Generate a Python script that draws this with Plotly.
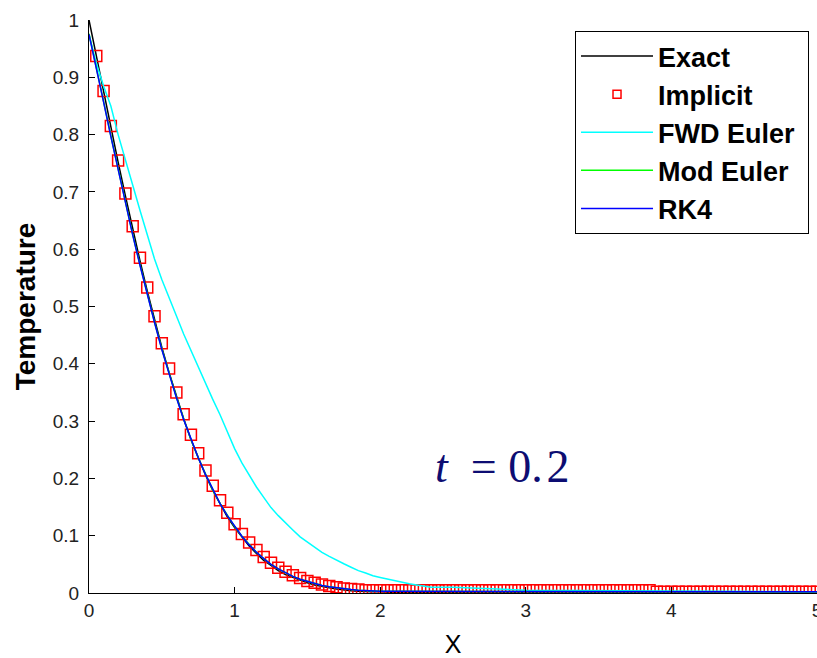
import plotly.graph_objects as go

# ---- data ----
X_LINE = [0.0, 0.05, 0.1, 0.15, 0.2, 0.25, 0.3, 0.35, 0.4, 0.45,
          0.5, 0.55, 0.6, 0.65, 0.7, 0.75, 0.8, 0.85, 0.9, 0.95,
          1.0, 1.05, 1.1, 1.15, 1.2, 1.25, 1.3, 1.35, 1.4, 1.45,
          1.5, 1.55, 1.6, 1.65, 1.7, 1.75, 1.8, 1.85, 1.9, 1.95,
          2.0, 2.05, 2.1, 2.15, 2.2, 2.25, 2.3, 2.35, 2.4, 2.45,
          2.5, 3.0, 3.5, 4.0, 4.5, 5.0]

EXACT = [1.000, 0.937, 0.874, 0.813, 0.752, 0.693, 0.635, 0.580, 0.527, 0.477,
         0.429, 0.385, 0.343, 0.304, 0.268, 0.236, 0.206, 0.179, 0.155, 0.133,
         0.114, 0.097, 0.082, 0.069, 0.057, 0.048, 0.039, 0.032, 0.027, 0.022,
         0.018, 0.014, 0.011, 0.009, 0.007, 0.005, 0.004, 0.003, 0.002, 0.002,
         0.002, 0.001, 0.001, 0.001, 0.001, 0.000, 0.000, 0.000, 0.000, 0.000,
         0.000, 0.000, 0.000, 0.000, 0.000, 0.000]

FWD_EULER = [0.975, 0.925, 0.885, 0.850, 0.800, 0.754, 0.712, 0.668, 0.624, 0.583,
             0.547, 0.514, 0.484, 0.452, 0.423, 0.394, 0.366, 0.338, 0.311, 0.282,
             0.252, 0.227, 0.205, 0.185, 0.167, 0.149, 0.135, 0.122, 0.110, 0.098,
             0.089, 0.080, 0.071, 0.064, 0.057, 0.051, 0.045, 0.039, 0.035, 0.030,
             0.027, 0.024, 0.021, 0.019, 0.016, 0.014, 0.012, 0.010, 0.010, 0.010,
             0.010, 0.005, 0.004, 0.003, 0.002, 0.002]

MOD_EULER = [0.976, 0.919, 0.858, 0.798, 0.739, 0.682, 0.626, 0.573, 0.522, 0.473,
             0.426, 0.383, 0.342, 0.304, 0.268, 0.236, 0.207, 0.180, 0.156, 0.135,
             0.116, 0.099, 0.084, 0.071, 0.060, 0.050, 0.042, 0.035, 0.029, 0.024,
             0.020, 0.016, 0.013, 0.011, 0.009, 0.007, 0.006, 0.005, 0.004, 0.004,
             0.003, 0.003, 0.003, 0.002, 0.002, 0.002, 0.002, 0.002, 0.002, 0.002,
             0.002, 0.002, 0.002, 0.002, 0.002, 0.002]

RK4 = [0.975, 0.918, 0.857, 0.797, 0.738, 0.681, 0.625, 0.572, 0.521, 0.472,
       0.425, 0.382, 0.341, 0.303, 0.268, 0.236, 0.207, 0.180, 0.156, 0.135,
       0.116, 0.099, 0.084, 0.071, 0.060, 0.050, 0.042, 0.035, 0.029, 0.024,
       0.020, 0.016, 0.013, 0.011, 0.009, 0.007, 0.006, 0.005, 0.004, 0.004,
       0.003, 0.003, 0.003, 0.002, 0.002, 0.002, 0.002, 0.002, 0.002, 0.002,
       0.002, 0.002, 0.002, 0.002, 0.002, 0.002]

X_IMPLICIT = [0.05, 0.1, 0.15, 0.2, 0.25, 0.3, 0.35, 0.4, 0.45, 0.5,
              0.55, 0.6, 0.65, 0.7, 0.75, 0.8, 0.85, 0.9, 0.95, 1.0,
              1.05, 1.1, 1.15, 1.2, 1.25, 1.3, 1.35, 1.4, 1.45, 1.5,
              1.55, 1.6, 1.65, 1.7, 1.75, 1.8, 1.85, 1.9, 1.95, 2.0,
              2.05, 2.1, 2.15, 2.2, 2.25, 2.3, 2.35, 2.4, 2.45, 2.5,
              2.55, 2.6, 2.65, 2.7, 2.75, 2.8, 2.85, 2.9, 2.95, 3.0,
              3.05, 3.1, 3.15, 3.2, 3.25, 3.3, 3.35, 3.4, 3.45, 3.5,
              3.55, 3.6, 3.65, 3.7, 3.75, 3.8, 3.85, 3.9, 3.95, 4.0,
              4.05, 4.1, 4.15, 4.2, 4.25, 4.3, 4.35, 4.4, 4.45, 4.5,
              4.55, 4.6, 4.65, 4.7, 4.75, 4.8, 4.85, 4.9, 4.95, 5.0]

IMPLICIT = [0.937, 0.876, 0.815, 0.755, 0.697, 0.640, 0.585, 0.533, 0.483, 0.436,
            0.392, 0.350, 0.312, 0.276, 0.244, 0.214, 0.187, 0.162, 0.140, 0.120,
            0.103, 0.088, 0.075, 0.063, 0.053, 0.044, 0.037, 0.031, 0.026, 0.021,
            0.018, 0.015, 0.012, 0.010, 0.008, 0.007, 0.006, 0.005, 0.005, 0.005,
            0.005, 0.005, 0.005, 0.005, 0.005, 0.005, 0.005, 0.005, 0.005, 0.005,
            0.005, 0.005, 0.005, 0.005, 0.005, 0.005, 0.005, 0.005, 0.005, 0.005,
            0.005, 0.005, 0.005, 0.005, 0.005, 0.005, 0.005, 0.005, 0.005, 0.005,
            0.005, 0.005, 0.005, 0.005, 0.005, 0.005, 0.005, 0.002, 0.002, 0.002,
            0.002, 0.002, 0.002, 0.002, 0.002, 0.002, 0.002, 0.002, 0.002, 0.002,
            0.002, 0.002, 0.002, 0.002, 0.002, 0.002, 0.002, 0.002, 0.002, 0.002]

X_TICKS = [0, 1, 2, 3, 4, 5]
Y_TICKS = [0, 0.1, 0.2, 0.3, 0.4, 0.5, 0.6, 0.7, 0.8, 0.9, 1]
Y_TICK_TEXT = ["0", "0.1", "0.2", "0.3", "0.4", "0.5", "0.6", "0.7", "0.8", "0.9", "1"]

SANS = "Liberation Sans, Arial, sans-serif"
SERIF = "Liberation Serif, Times New Roman, serif"

fig = go.Figure()

fig.add_trace(go.Scatter(x=X_LINE, y=EXACT, mode="lines", name="Exact",
                         line=dict(color="black", width=1.5)))
fig.add_trace(go.Scatter(x=X_IMPLICIT, y=IMPLICIT, mode="markers", name="Implicit",
                         showlegend=False,
                         marker=dict(symbol="square-open", size=11, color="red",
                                     line=dict(color="red", width=1.5))))
# legend entry for Implicit (smaller sample square, as in the reference legend)
fig.add_trace(go.Scatter(x=[None], y=[None], mode="markers", name="Implicit",
                         marker=dict(symbol="square-open", size=8, color="red",
                                     line=dict(color="red", width=1.5))))
fig.add_trace(go.Scatter(x=X_LINE, y=FWD_EULER, mode="lines", name="FWD Euler\u00a0",
                         line=dict(color="#00ffff", width=1.5)))
fig.add_trace(go.Scatter(x=X_LINE, y=MOD_EULER, mode="lines", name="Mod Euler",
                         line=dict(color="#00ff00", width=1.5)))
fig.add_trace(go.Scatter(x=X_LINE, y=RK4, mode="lines", name="RK4",
                         line=dict(color="#0000ff", width=1.5)))

fig.add_annotation(x=2.36, y=0.22, xref="x", yref="y", xanchor="left", yanchor="middle",
                   text="<i>t</i>&nbsp;&nbsp;=&nbsp;0.&#8202;2", showarrow=False,
                   font=dict(family=SERIF, size=46, color="#0d0d72"))

fig.update_layout(
    width=817, height=658,
    margin=dict(l=89, r=0, t=20, b=65, pad=0, autoexpand=False),
    paper_bgcolor="white", plot_bgcolor="white",
    showlegend=True,
    legend=dict(x=0.6676, y=0.9808, xanchor="left", yanchor="top",
                bgcolor="white", bordercolor="black", borderwidth=1,
                font=dict(family=SANS, size=27, color="black", weight="bold"),
                itemwidth=72, traceorder="normal"),
    xaxis=dict(range=[0, 5], tickvals=X_TICKS, ticks="inside", ticklen=6,
               tickcolor="black", showline=True, linecolor="black", linewidth=1,
               mirror=False, showgrid=False, zeroline=False, automargin=False,
               tickfont=dict(family=SANS, size=19, color="#222222"),
               ticklabelstandoff=0, ticklabeloverflow="allow",
               title=dict(text="X", font=dict(family=SANS, size=25, color="black"),
                          standoff=16)),
    yaxis=dict(range=[0, 1], tickvals=Y_TICKS, ticktext=Y_TICK_TEXT, ticks="inside",
               ticklen=6, tickcolor="black", showline=True, linecolor="black",
               linewidth=1, mirror=False, showgrid=False, zeroline=False,
               automargin=False,
               tickfont=dict(family=SANS, size=19, color="#222222"),
               ticklabelstandoff=5,
               title=dict(text="Temperature",
                          font=dict(family=SANS, size=28, color="black", weight="bold"),
                          standoff=8)),
)

fig.write_html("out.html", config={"displayModeBar": False},
               post_script="document.body.style.margin='0';document.body.style.padding='0';")
